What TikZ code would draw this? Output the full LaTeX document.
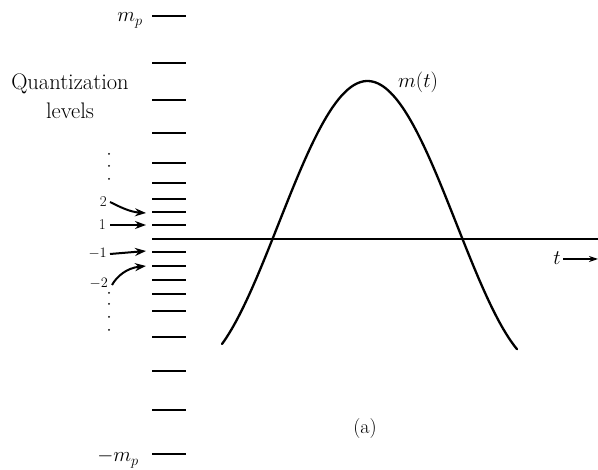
\documentclass[tikz,border=0pt]{standalone}
\usetikzlibrary{arrows.meta}
\begin{document}
\begin{tikzpicture}[x=1pt,y=-1pt,
  level/.style={line width=1.3pt},
  axisline/.style={line width=1.5pt},
  sig/.style={line width=2.3pt},
  pointer/.style={line width=2pt,-{Stealth[length=11pt,width=8pt]}},
  txt/.style={inner sep=0pt,font=\fontsize{20}{29}\selectfont},
  small/.style={inner sep=0pt,font=\fontsize{15}{17}\selectfont},
  dotmark/.style={fill=black,draw=none}]
\useasboundingbox (0,0) rectangle (598,470);
% quantization levels
\foreach \yy/\nm in {16/q9,63/q8,100/q7,133/q6,163/q5,183/q4,199/q3,212/q2,225/q1,252/qm1,266/qm2,280/qm3,294/qm4,311/qm5,337/qm6,371/qm7,410/qm8,454/qm9}{
  \coordinate (\nm) at (152,\yy);
  \draw[level] (\nm) -- ++(34,0);
}
% time axis
\coordinate (ax0) at (152,239);
\coordinate (ax1) at (598,239);
\draw[axisline] (ax0) -- (ax1);
% signal
\draw[sig,line cap=round] plot[domain=222:517,samples=120,smooth] (\x,{239-15-143*cos(1.0108*(\x-367.5))});
% labels
\node[txt,align=center,font=\fontsize{22.5}{29}\selectfont] (ql) at (70,96) {Quantization\\levels};
\node[txt,anchor=base east] (mp) at (143,22) {$m_p$};
\node[txt,anchor=base east] (mmp) at (139,462) {$-m_p$};
\node[txt,anchor=base west] (mt) at (398,88) {$m(t)$};
\node[txt,anchor=base] (cap) at (365,434) {(a)};
\node[txt,anchor=base] (tl) at (557,265) {$t$};
\coordinate (tarr0) at (563,259);
\coordinate (tarr1) at (598,259);
\draw[line width=1.2pt,-{Stealth[length=9pt,width=6pt]}] (tarr0) -- (tarr1);
% dots
\foreach \yy in {154,166,179,293,304,317,330}{
  \fill[dotmark] (109,\yy) circle (1pt);
}
% level numbers
\node[small,anchor=base east] (n2) at (107,207) {2};
\node[small,anchor=base east] (n1) at (106,230) {1};
\node[small,anchor=base east] (nm1) at (107,258) {$-1$};
\node[small,anchor=base east] (nm2) at (108,288) {$-2$};
\coordinate (e2) at (146,213);
\coordinate (e1) at (146,225);
\coordinate (em1) at (146,251);
\coordinate (em2) at (146,266);
\draw[pointer] (110,202) .. controls (120,207) and (130,212) .. (e2);
\draw[pointer] (110,225) -- (e1);
\draw[pointer] (110,254) -- (em1);
\draw[pointer] (112,285) .. controls (117,276) and (127,268) .. (em2);
\end{tikzpicture}
\end{document}
